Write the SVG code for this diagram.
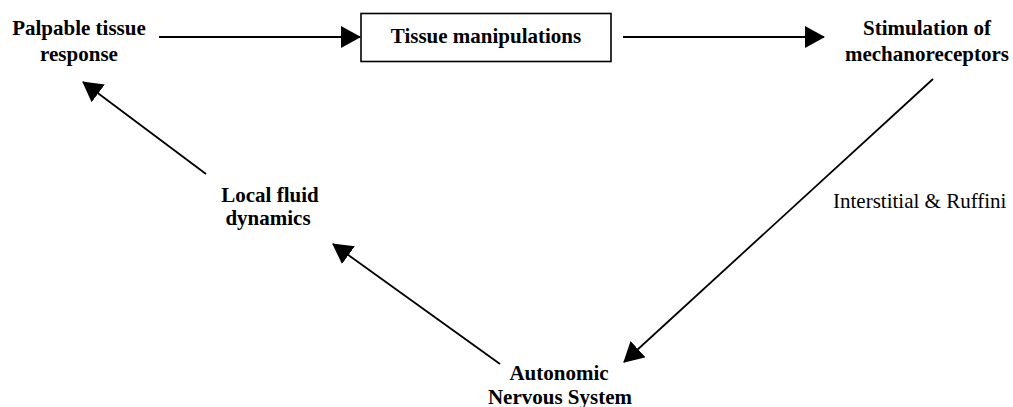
<svg xmlns="http://www.w3.org/2000/svg" width="1013" height="407" viewBox="0 0 1013 407">
<style>
  .lbl { font-family: "Liberation Serif", "Times New Roman", serif; font-size: 21px; font-weight: bold; fill: #000; text-anchor: middle; }
  .note { font-family: "Liberation Serif", "Times New Roman", serif; font-size: 21px; fill: #000; }
  .conn { stroke: #000; stroke-width: 1.8; fill: none; marker-end: url(#arrow); }
  .box { fill: #fff; stroke: #000; stroke-width: 1.6; }
</style>
<defs>
  <marker id="arrow" markerUnits="userSpaceOnUse" markerWidth="20" markerHeight="22" refX="19" refY="11" orient="auto" viewBox="0 0 20 22">
    <path d="M0,0 L20,11 L0,22 z" fill="#000"/>
  </marker>
</defs>
<rect width="1013" height="407" fill="#fff"/>
<g id="connectors">
  <line class="conn" x1="159" y1="37" x2="360" y2="37"/>
  <line class="conn" x1="623" y1="37" x2="824" y2="37"/>
  <line class="conn" x1="933" y1="79" x2="624" y2="362"/>
  <line class="conn" x1="500" y1="364" x2="333" y2="244"/>
  <line class="conn" x1="206" y1="174" x2="83" y2="82"/>
  <text class="note" x="833" y="208">Interstitial &amp; Ruffini</text>
</g>
<g id="palpable">
  <text class="lbl" x="79" y="35">Palpable tissue</text>
  <text class="lbl" x="79" y="61">response</text>
</g>
<g id="manipulations">
  <rect class="box" x="361" y="13.5" width="250" height="48"/>
  <text class="lbl" x="486" y="43">Tissue manipulations</text>
</g>
<g id="stimulation">
  <text class="lbl" x="927" y="35">Stimulation of</text>
  <text class="lbl" x="927" y="61">mechanoreceptors</text>
</g>
<g id="ans">
  <text class="lbl" x="559" y="380">Autonomic</text>
  <text class="lbl" x="560" y="404">Nervous System</text>
</g>
<g id="fluid">
  <text class="lbl" x="270" y="202">Local fluid</text>
  <text class="lbl" x="268" y="225">dynamics</text>
</g>
</svg>
